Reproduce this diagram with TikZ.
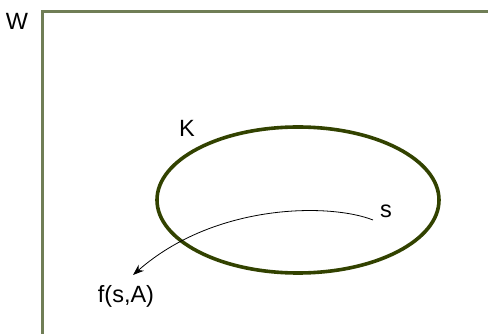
\documentclass[tikz,border=0pt]{standalone}
\usepackage{fontspec}
\setmainfont{Liberation Sans}
\usetikzlibrary{arrows.meta}
\definecolor{framecol}{RGB}{112,126,86}
\definecolor{ringcol}{RGB}{50,66,0}
\begin{document}
\begin{tikzpicture}[x=1pt,y=1pt,
  lbl/.style={font=\fontsize{23.5}{26}\selectfont, inner sep=0pt, text=black}]
\useasboundingbox (0,0) rectangle (488,-334);
% frame W
\draw[framecol, line width=3pt, line cap=butt] (42,-334) -- (42,-12) -- (488,-12);
\node[lbl] (W) at (17,-21) {W};
% set K
\draw[ringcol, line width=3.6pt] (298,-200) ellipse [x radius=141, y radius=73];
\node[lbl] (K) at (187,-128) {K};
% point s and image
\node[lbl] (s) at (386,-211) {s};
\node[lbl] (f) at (126,-296) {f(s,A)};
\coordinate (start) at (373,-220);
\coordinate (tip) at (133,-275);
\draw[black, line width=0.8pt, -{Stealth[length=11pt,width=8pt]}]
  (start) .. controls (330,-203) and (215,-203) .. (tip);
\end{tikzpicture}
\end{document}
